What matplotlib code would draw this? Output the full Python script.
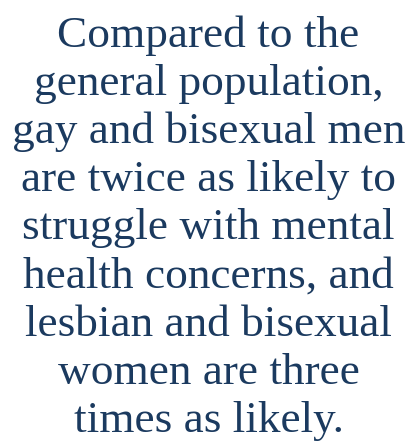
import matplotlib
matplotlib.use("Agg")
import matplotlib.pyplot as plt

lines = [
    "Compared to the",
    "general population,",
    "gay and bisexual men",
    "are twice as likely to",
    "struggle with mental",
    "health concerns, and",
    "lesbian and bisexual",
    "women are three",
    "times as likely.",
]

W, H = 417, 448
fig = plt.figure(figsize=(W / 100, H / 100), dpi=100)
fig.patch.set_facecolor("white")

first_base = 47
step = 48.1
for i, line in enumerate(lines):
    y = 1 - (first_base + step * i) / H
    fig.text(0.5, y, line, ha="center", va="baseline",
             fontsize=32.6, family="Liberation Serif", color="#1b3a5f")

fig.savefig("out.png", dpi=100)
